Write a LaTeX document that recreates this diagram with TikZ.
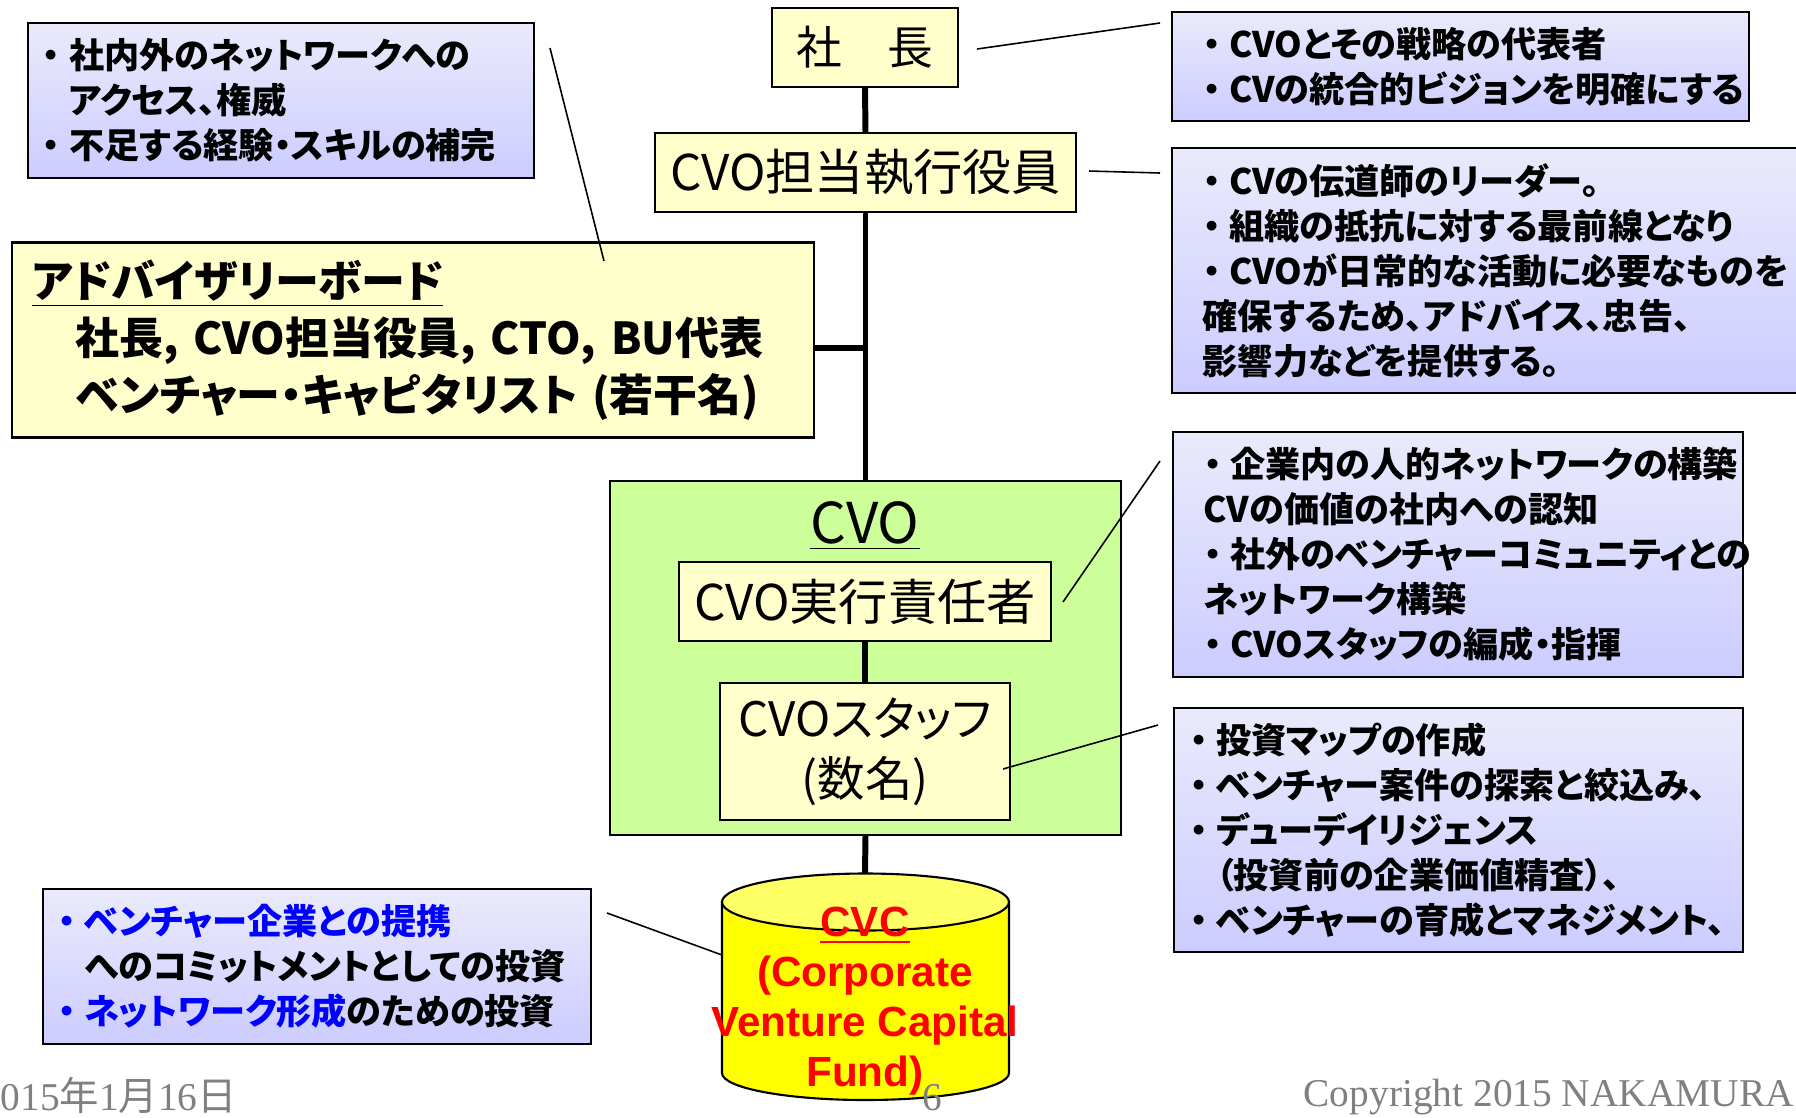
\documentclass[tikz,border=0pt]{standalone}
\usepackage{fontspec}
\setmainfont{Liberation Sans}
\newfontfamily\jp[RawFeature=+palt]{Noto Sans CJK JP}
\newfontfamily\jpfix{Noto Sans CJK JP}
\newfontfamily\footserif{Liberation Serif}

\definecolor{boxyellow}{RGB}{255,255,204}
\definecolor{cvogreen}{RGB}{204,255,153}
\definecolor{notetop}{RGB}{234,234,252}
\definecolor{notebot}{RGB}{204,204,255}
\definecolor{cvcyellow}{RGB}{255,255,0}
\definecolor{cvctop}{RGB}{255,255,102}
\definecolor{footgray}{RGB}{128,128,128}
\definecolor{linkblue}{RGB}{0,0,255}

\newlength\upx
\setlength\upx{0.01cm}
\newcommand\ndot{\makebox[1em]{・}}

\begin{document}
\begin{tikzpicture}[x=0.01cm,y=-0.01cm,
	ybox/.style={draw,line width=0.6pt,fill=boxyellow,inner sep=0pt,font=\jp\fontsize{13.5}{17}\selectfont},
	note/.style={draw,line width=0.6pt,top color=notetop,bottom color=notebot,align=left,inner ysep=0pt,font=\jp\bfseries\fontsize{10}{12.8}\selectfont},
	callout/.style={line width=0.45pt},
	trunk/.style={line width=1.7pt},
	foot/.style={inner sep=0pt,text=footgray,font=\footserif\fontsize{11.2}{12}\selectfont}]
	\clip (0,0) rectangle (1796,1117);
	% Fusszeile
	\node[foot,anchor=base west] (date) at (0,1110) {015{\jpfix 年}1{\jpfix 月}16{\jpfix 日}};
	\node[foot,anchor=base west] (copy) at (1303,1106) {Copyright 2015 NAKAMURA};
	% Organisation
	\node[ybox,minimum width=186\upx,minimum height=79\upx,font=\jp\fontsize{13}{17}\selectfont] (shacho) at (865,47.5) {社　長};
	\node[ybox,minimum width=421\upx,minimum height=79\upx,font=\jp\fontsize{14}{17}\selectfont] (yakuin) at (865.5,172.5) {CVO担当執行役員};
	\node[ybox,minimum height=195\upx,text width=762\upx,inner xsep=20\upx,align=left,
		font=\jp\bfseries\fontsize{12.5}{16.3}\selectfont] (board) at (413,340)
		{\underline{アドバイザリーボード}\\
		\quad 社長, CVO担当役員, CTO, BU代表\\
		\quad ベンチャー・キャピタリスト (若干名)};
	\node[draw,line width=0.6pt,fill=cvogreen,minimum width=511\upx,minimum height=354\upx] (cvo) at (865.5,658) {};
	\node[font=\jp\fontsize{16}{19}\selectfont] (cvotitle) at (865,526) {\underline{CVO}};
	\node[ybox,minimum width=372\upx,minimum height=79\upx,font=\jp\fontsize{14}{17}\selectfont] (exec) at (865,601.5) {CVO実行責任者};
	\node[ybox,minimum width=290\upx,minimum height=137\upx,align=center] (staff) at (865,751.5) {CVOスタッフ\\(数名)};
	% Linien
	\coordinate (cvctip) at (865,873);
	\coordinate (boardjoin) at (865,348);
	\draw[trunk] (shacho.south) -- (yakuin.north);
	\draw[trunk] (yakuin.south) -- (cvo.north);
	\draw[trunk] (board.east |- boardjoin) -- (boardjoin);
	\draw[trunk] (exec.south) -- (staff.north);
	\draw[trunk] (cvo.south) -- (cvctip);
	% CVC Zylinder
	\path[draw,line width=0.6pt,fill=cvcyellow] (722,902) -- (722,1073) arc[start angle=180,end angle=0,x radius=143.5,y radius=27] -- (1009,902) -- cycle;
	\draw[line width=0.6pt,fill=cvctop] (865.5,902) ellipse[x radius=143.5,y radius=28.5];
	\node[text=red,align=center,font=\bfseries\fontsize{12}{14.2}\selectfont] (cvc) at (865,1001)
		{\underline{CVC}\\(Corporate\\Venture Capital\\Fund)};
	\node[foot,anchor=base] (page) at (932,1110) {6};
	% Erlaeuterungen
	\node[note,minimum height=155\upx,text width=494\upx,inner xsep=6\upx] (tlnote) at (281,100.5)
		{\ndot 社内外のネットワークへの\\\hphantom{\ndot}アクセス、権威\\\ndot 不足する経験・スキルの補完};
	\node[note,minimum height=109\upx,text width=533\upx,inner xsep=22\upx] (note1) at (1460.5,66.5)
		{\ndot CVOとその戦略の代表者\\\ndot CVの統合的ビジョンを明確にする};
	\node[note,minimum height=245\upx,text width=584\upx,inner xsep=22\upx] (note2) at (1486,270.5)
		{\ndot CVの伝道師のリーダー。\\
		\ndot 組織の抵抗に対する最前線となり\\
		\ndot CVOが日常的な活動に必要なものを\\
		\hspace{0.25em}確保するため、アドバイス、忠告、\\
		\hspace{0.25em}影響力などを提供する。};
	\node[note,minimum height=245\upx,text width=526\upx,inner xsep=22\upx] (note3) at (1458,554.5)
		{\ndot 企業内の人的ネットワークの構築\\
		\hspace{0.25em}CVの価値の社内への認知\\
		\ndot 社外のベンチャーコミュニティとの\\
		\hspace{0.25em}ネットワーク構築\\
		\ndot CVOスタッフの編成・指揮};
	\node[note,minimum height=244\upx,text width=555\upx,inner xsep=7\upx] (note4) at (1458.5,830)
		{\ndot 投資マップの作成\\
		\ndot ベンチャー案件の探索と絞込み、\\
		\ndot デューデイリジェンス\\
		\hphantom{\ndot}（投資前の企業価値精査）、\\
		\ndot ベンチャーの育成とマネジメント、};
	\node[note,minimum height=155\upx,text width=536\upx,inner xsep=6\upx] (blnote) at (317,966.5)
		{{\color{linkblue}\ndot ベンチャー企業との提携}\\
		\hphantom{\ndot}へのコミットメントとしての投資\\
		{\color{linkblue}\ndot ネットワーク形成}のための投資};
	% Verbinder
	\coordinate (shachotip) at (977,49);
	\coordinate (note1tip) at (1160,23);
	\coordinate (yakuintip) at (1089,171);
	\coordinate (note2tip) at (1160,173);
	\coordinate (exectip) at (1063,602);
	\coordinate (note3tip) at (1160,461);
	\coordinate (stafftip) at (1003,769);
	\coordinate (note4tip) at (1158,725);
	\coordinate (tlnotetip) at (550,48);
	\coordinate (boardtip) at (604,261);
	\coordinate (blnotetip) at (607,913);
	\coordinate (cvcside) at (722,955);
	\draw[callout] (shachotip) -- (note1tip);
	\draw[callout] (yakuintip) -- (note2tip);
	\draw[callout] (exectip) -- (note3tip);
	\draw[callout] (stafftip) -- (note4tip);
	\draw[callout] (tlnotetip) -- (boardtip);
	\draw[callout] (blnotetip) -- (cvcside);
\end{tikzpicture}
\end{document}
